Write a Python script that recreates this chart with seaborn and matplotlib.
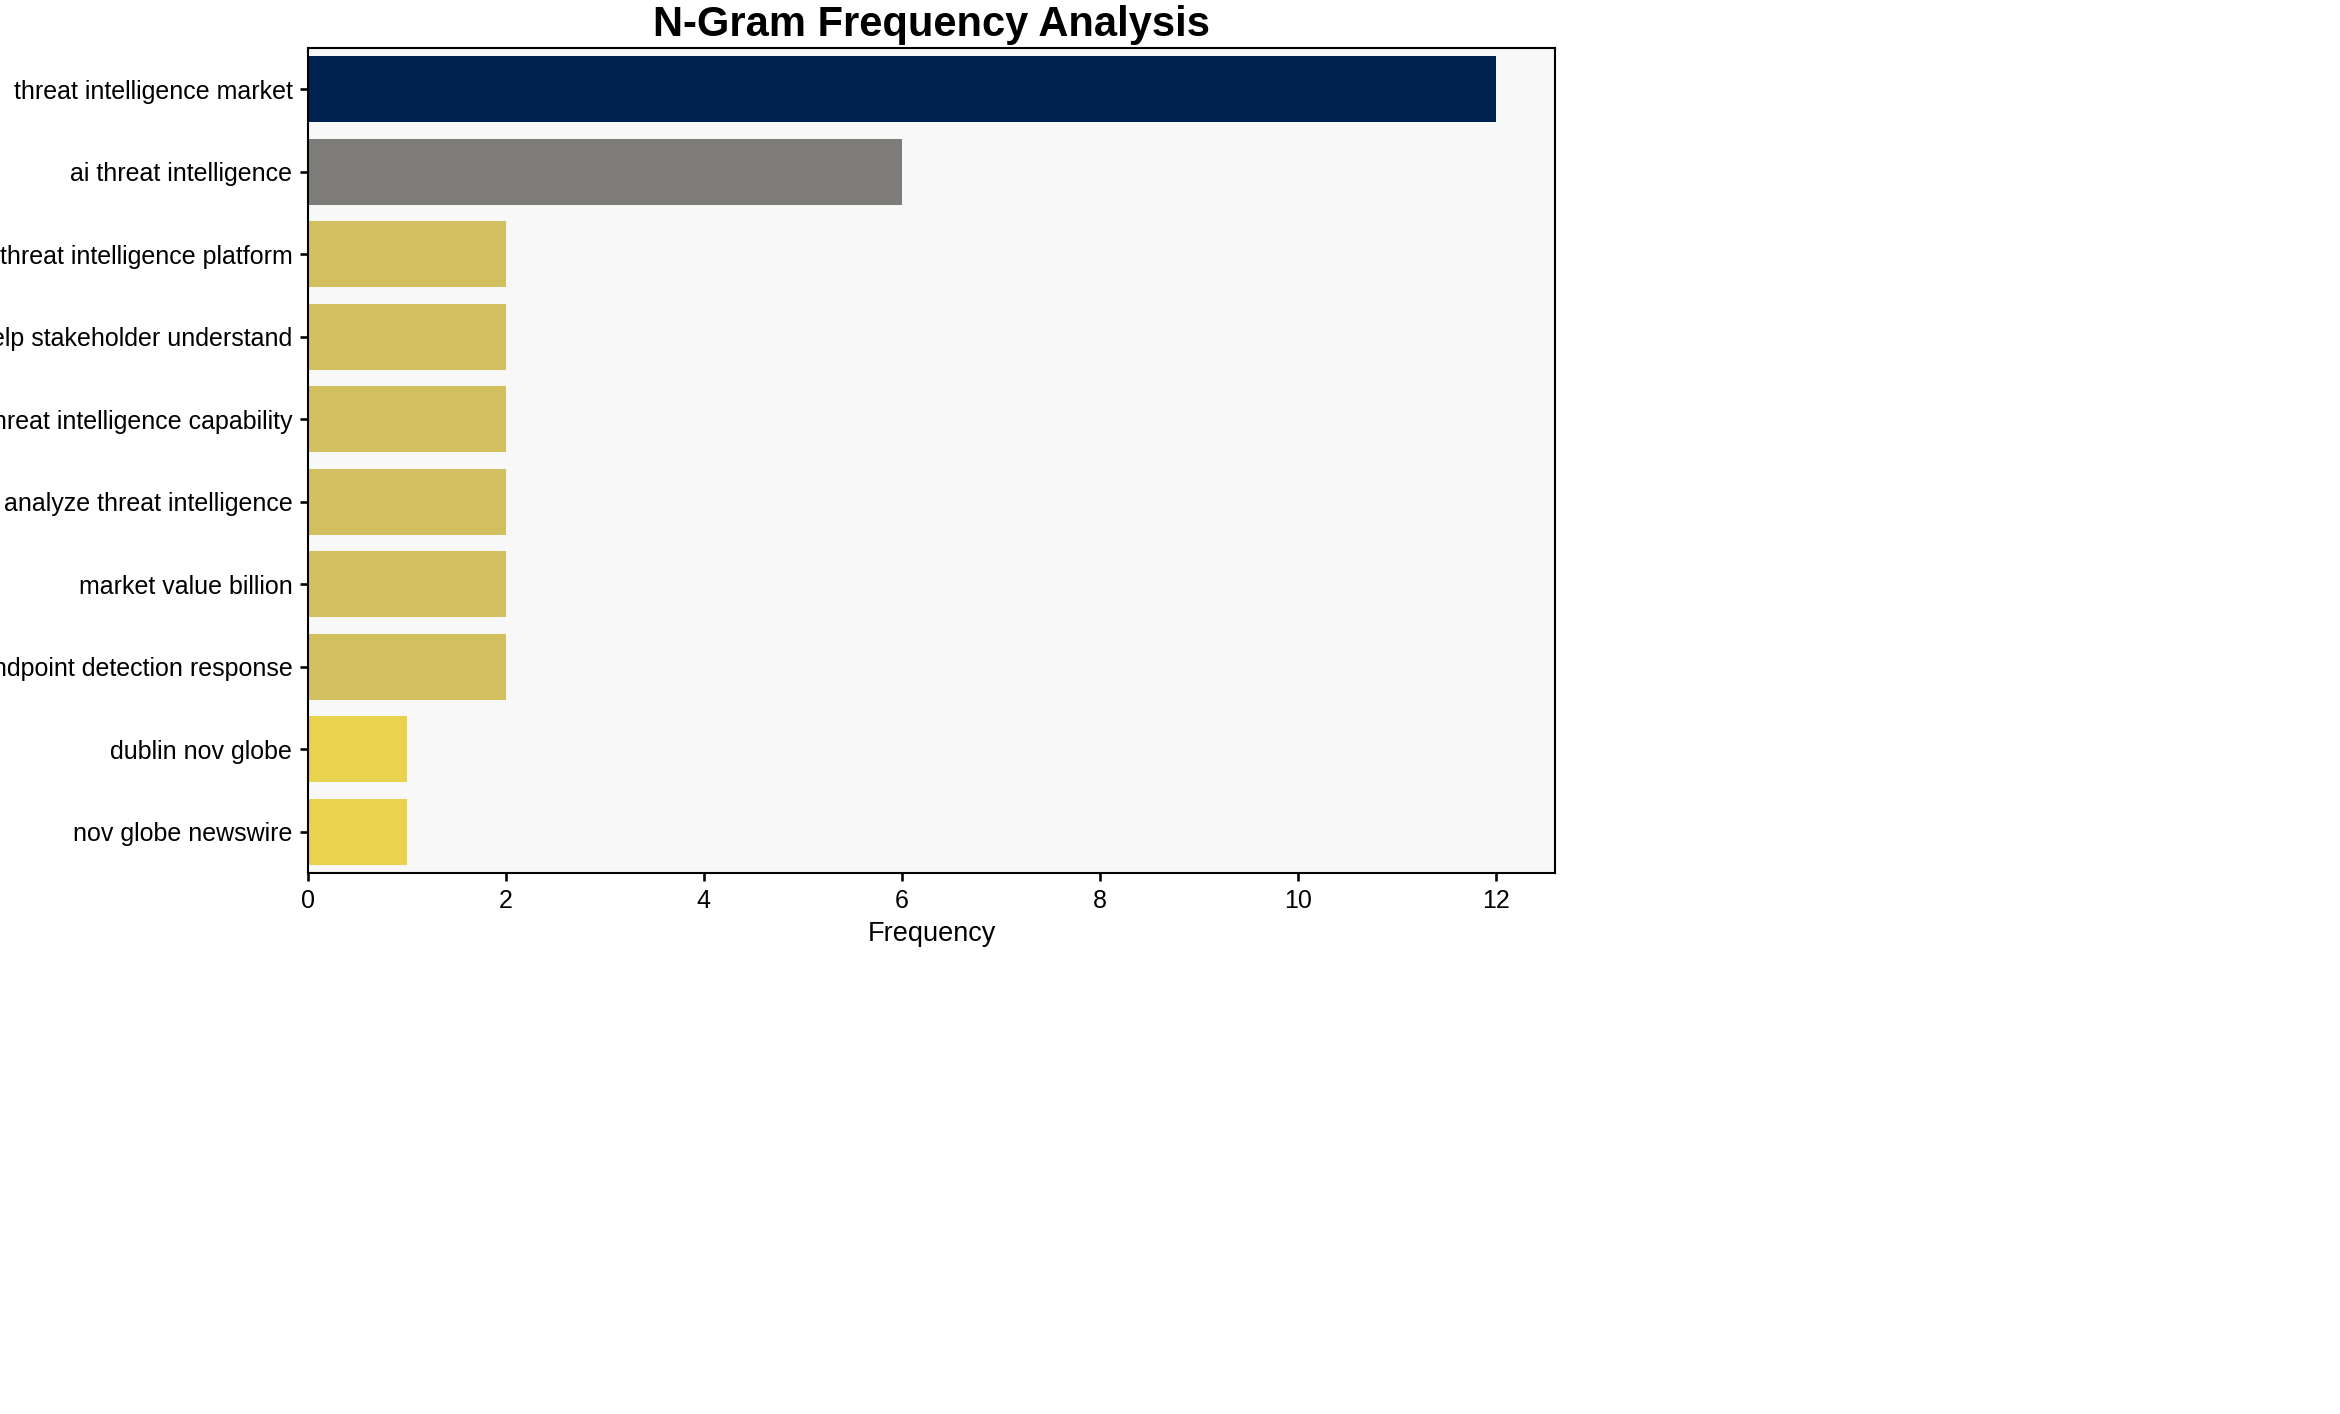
import matplotlib
matplotlib.use("Agg")
import matplotlib.pyplot as plt
import seaborn as sns
import pandas as pd

ngrams = ["threat intelligence market", "ai threat intelligence", "threat intelligence platform",
          "help stakeholder understand", "threat intelligence capability", "analyze threat intelligence",
          "market value billion", "endpoint detection response", "dublin nov globe", "nov globe newswire"]
freqs = [12, 6, 2, 2, 2, 2, 2, 2, 1, 1]

sns.set_theme(style="white")
plt.rcParams['font.family'] = ['Liberation Sans', 'DejaVu Sans']
plt.rcParams['text.color'] = 'black'
plt.rcParams['axes.labelcolor'] = 'black'
plt.rcParams['xtick.color'] = 'black'
plt.rcParams['ytick.color'] = 'black'

df = pd.DataFrame({"ngram": ngrams, "freq": freqs})
mx = max(freqs)
colors = [plt.cm.cividis(1 - v / mx) for v in freqs]

fig, ax = plt.subplots(figsize=(15.6, 9.4267), dpi=150)
fig.subplots_adjust(left=308/2340, right=1555/2340, top=1 - 48/1414, bottom=1 - 873/1414)
sns.barplot(data=df, x="freq", y="ngram", hue="ngram", palette=colors, legend=False,
            ax=ax, width=0.8, saturation=1, linewidth=0)
ax.set_facecolor("#f8f8f8")
for s in ax.spines.values():
    s.set_color("black"); s.set_linewidth(1)
ax.set_xlim(0, 12.6)
ax.set_xticks([0, 2, 4, 6, 8, 10, 12])
ax.tick_params(axis='both', labelsize=12, length=4, color='black', bottom=True, left=True)
ax.set_xlabel("Frequency", fontsize=13)
ax.set_ylabel("")
ax.set_title("N-Gram Frequency Analysis", fontsize=20, fontweight="bold", pad=6)
fig.savefig("out.png", dpi=150)
